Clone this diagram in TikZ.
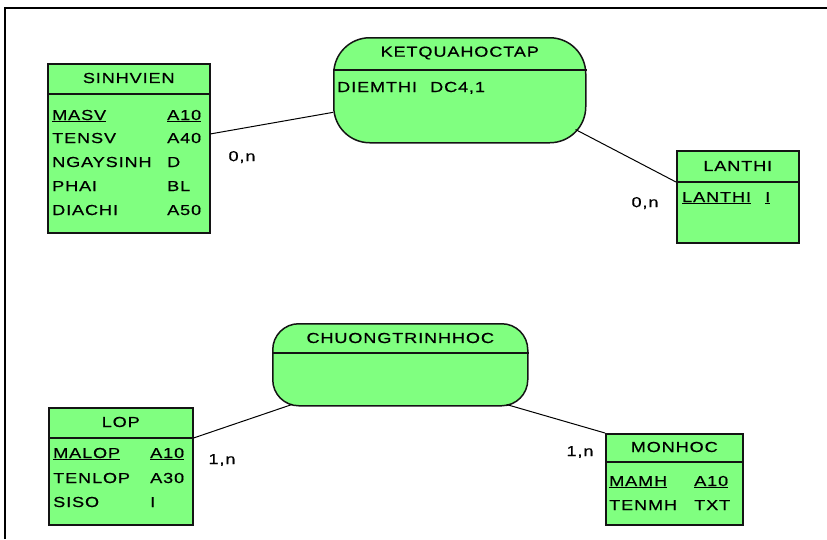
\documentclass[tikz,border=0pt]{standalone}
\usepackage{fontspec}
\setmainfont{Liberation Sans}[FakeStretch=1.25, LetterSpace=6, FakeBold=0.5]
\usepackage{tikz}
\usetikzlibrary{positioning}

\definecolor{erfill}{RGB}{128,255,128}
\definecolor{erline}{RGB}{20,20,20}

\tikzset{
  entity/.style={draw=erline, fill=erfill, line width=1.5pt, anchor=north west, inner sep=0pt},
  relation/.style={entity, rounded corners=#1},
  title/.style={inner sep=0pt},
  attr/.style={inner sep=0pt, anchor=base west},
  card/.style={inner sep=0pt},
  link/.style={line width=1pt}
}

\begin{document}
\begin{tikzpicture}[x=1pt, y=-1pt, font=\fontsize{14.5}{16}\selectfont]
      \useasboundingbox (0,0) rectangle (827,539);
      \draw[line width=2pt] (5,539) -- (5,8) -- (827,8);

      % entities
      \node[entity, minimum width=162, minimum height=169] (sv) at (47,63)  { };
      \node[entity, minimum width=122, minimum height=92]  (lt) at (676,150) { };
      \node[entity, minimum width=144, minimum height=117] (lop) at (48,407) { };
      \node[entity, minimum width=137, minimum height=91]  (mh) at (605,433) { };

      % relations
      \node[relation=36pt, minimum width=252, minimum height=105] (kq) at (333,37)  { };
      \node[relation=26pt, minimum width=255, minimum height=82]  (ct) at (272,323) { };

      % header lines
      \draw[erline, line width=1.5pt] (sv.west |- 0,94)   -- (sv.east |- 0,94);
      \draw[erline, line width=1.5pt] (lt.west |- 0,182)  -- (lt.east |- 0,182);
      \draw[erline, line width=1.5pt] (lop.west |- 0,438) -- (lop.east |- 0,438);
      \draw[erline, line width=1.5pt] (mh.west |- 0,462)  -- (mh.east |- 0,462);
      \draw[erline, line width=1.5pt] (kq.west |- 0,70)   -- (kq.east |- 0,70);
      \draw[erline, line width=1.5pt] (ct.west |- 0,353)  -- (ct.east |- 0,353);

      % titles
      \node[title] at (sv.north |- 0,78)   {SINHVIEN};
      \node[title] at (lt.north |- 0,166)  {LANTHI};
      \node[title] at (lop.north |- 0,422) {LOP};
      \node[title] at (mh.north |- 0,447)  {MONHOC};
      \node[title] at (kq.north |- 0,53)   {KETQUAHOCTAP};
      \node[title] at (ct.north |- 0,338)  {CHUONGTRINHHOC};

      % attributes
      \node[attr] at (52,120)  {\underline{MASV}};
      \node[attr] at (167,120) {\underline{A10}};
      \node[attr] at (52,143)  {TENSV};
      \node[attr] at (167,143) {A40};
      \node[attr] at (52,167)  {NGAYSINH};
      \node[attr] at (167,167) {D};
      \node[attr] at (52,191)  {PHAI};
      \node[attr] at (167,191) {BL};
      \node[attr] at (52,215)  {DIACHI};
      \node[attr] at (167,215) {A50};

      \node[attr] at (337,92)  {DIEMTHI};
      \node[attr] at (430,92)  {DC4,1};

      \node[attr] at (682,202) {\underline{LANTHI}};
      \node[attr] at (765,202) {\underline{I}};

      \node[attr] at (53,458)  {\underline{MALOP}};
      \node[attr] at (150,458) {\underline{A10}};
      \node[attr] at (53,483)  {TENLOP};
      \node[attr] at (150,483) {A30};
      \node[attr] at (53,507)  {SISO};
      \node[attr] at (150,507) {I};

      \node[attr] at (609,486) {\underline{MAMH}};
      \node[attr] at (694,486) {\underline{A10}};
      \node[attr] at (609,510) {TENMH};
      \node[attr] at (694,510) {TXT};

      % links
      \path[link] (sv) edge (kq)
                  ([shift={(-11,-14)}]kq.south east) edge (lt.west |- 0,182)
                  (lop.east |- 0,438) edge ([shift={(20,-2)}]ct.south west)
                  ([shift={(-22,-2)}]ct.south east) edge (mh.north west)
      ;

      % cardinalities
      \node[card] (c1) at (242,157) {0,n};
      \node[card] (c2) at (645,203) {0,n};
      \node[card] (c3) at (222,460) {1,n};
      \node[card] (c4) at (580,452) {1,n};
    \end{tikzpicture}
\end{document}
